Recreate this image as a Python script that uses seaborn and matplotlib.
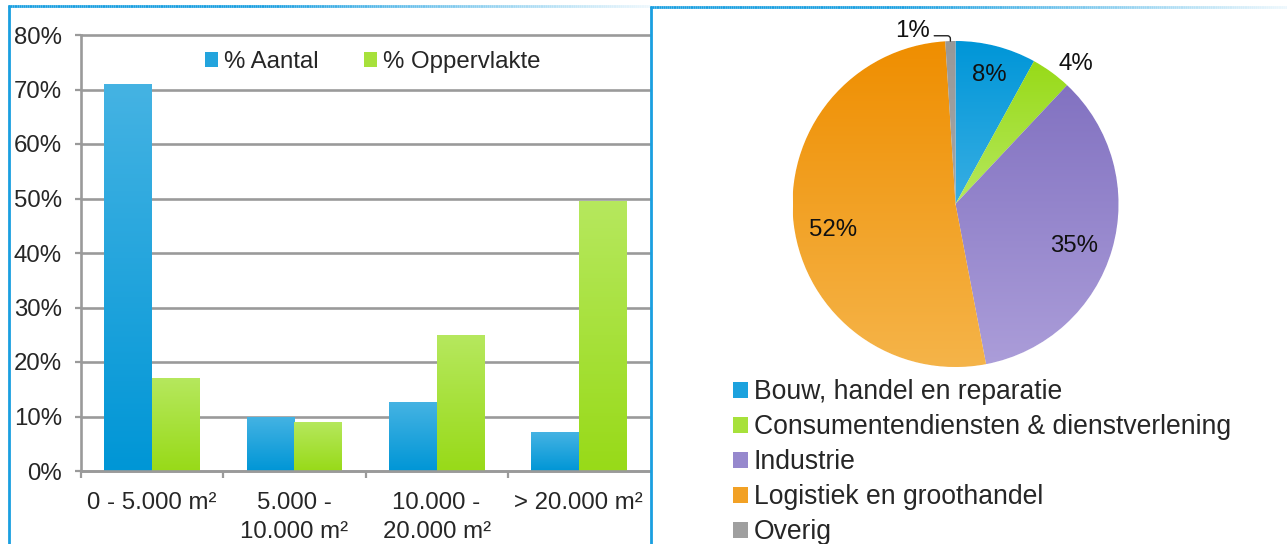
import numpy as np
import pandas as pd
import matplotlib
matplotlib.use("Agg")
import matplotlib.pyplot as plt
from matplotlib.colors import LinearSegmentedColormap, to_rgb
from matplotlib.patches import Patch
from matplotlib.collections import LineCollection
import seaborn as sns

# ---------------- data ----------------
size_classes = ["0 - 5.000 m²", "5.000 -\n10.000 m²", "10.000 -\n20.000 m²", "> 20.000 m²"]
series_names = ["% Aantal", "% Oppervlakte"]
pct_aantal = [71.0, 10.0, 12.6, 7.1]
pct_oppervlakte = [17.1, 9.0, 24.9, 49.6]
y_ticks = [0, 10, 20, 30, 40, 50, 60, 70, 80]

sectors = ["Bouw, handel en reparatie",
           "Consumentendiensten & dienstverlening",
           "Industrie",
           "Logistiek en groothandel",
           "Overig"]
sector_share = [8, 4, 35, 52, 1]

# ---------------- style ----------------
sns.set_style("white")
plt.rcParams["font.family"] = ["Liberation Sans", "DejaVu Sans"]

W, H = 1287, 544
fig = plt.figure(figsize=(W / 100, H / 100), dpi=100)
fig.patch.set_facecolor("white")

GRID = "#9a9a9a"
FRAME = "#1a9fe0"
FS = 17.3

# (top colour, bottom colour) for vertical gradients
bar_grad = {"% Aantal": ("#45b3e3", "#0096d6"),
            "% Oppervlakte": ("#b6e85e", "#98da18")}
pie_grad = [("#0096d8", "#38aee3"),
            ("#98da18", "#b6e85e"),
            ("#8272c1", "#ab9dd9"),
            ("#ef8e00", "#f5b449"),
            ("#989898", "#a6a6a6")]


def mix(c1, c2):
    a, b = np.array(to_rgb(c1)), np.array(to_rgb(c2))
    return tuple((a + b) / 2)


def fill_gradient(ax, patch, top, bottom, box):
    cmap = LinearSegmentedColormap.from_list("grad", [top, bottom])
    grad = np.linspace(0, 1, 256).reshape(-1, 1)
    im = ax.imshow(grad, cmap=cmap, aspect="auto", origin="upper",
                   extent=(box.x0, box.x1, box.y0, box.y1),
                   zorder=patch.get_zorder() + 0.01, interpolation="bilinear")
    im.set_clip_path(patch)


# ---------------- panel frames ----------------
bg = fig.add_axes([0, 0, 1, 1], zorder=-5)
bg.set_xlim(0, W)
bg.set_ylim(H, 0)
bg.axis("off")


def fading_line(ax, x0, x1, y, lw):
    xs = np.linspace(x0, x1, 300)
    segs = [[(xs[i], y), (xs[i + 1], y)] for i in range(len(xs) - 1)]
    t = np.linspace(0, 1, len(segs))
    alpha = np.where(t < 0.4, 1.0, 1.0 - (t - 0.4) / 0.6 * 0.92)
    base = np.array(to_rgb(FRAME))
    cols = [tuple(base * a + (1 - a)) for a in alpha]
    ax.add_collection(LineCollection(segs, colors=cols, linewidths=lw))


fading_line(bg, 8, 650, 5.5, 2.0)
fading_line(bg, 650, W, 6.5, 2.0)
bg.plot([8.5, 8.5], [5, H], color=FRAME, lw=2.0, solid_capstyle="butt")

# ---------------- bar chart ----------------
df = pd.DataFrame({
    "klasse": size_classes * 2,
    "reeks": [series_names[0]] * 4 + [series_names[1]] * 4,
    "pct": pct_aantal + pct_oppervlakte,
})

ax = fig.add_axes([81 / W, (H - 471) / H, (650 - 81) / W, (471 - 35) / H])
sns.barplot(data=df, x="klasse", y="pct", hue="reeks", hue_order=series_names,
            order=size_classes,
            palette=[mix(*bar_grad[s]) for s in series_names],
            width=0.67, saturation=1, errorbar=None, legend=False, ax=ax)

for name, cont in zip(series_names, ax.containers):
    for bar in cont:
        bar.set_linewidth(0)
        fill_gradient(ax, bar, *bar_grad[name], bar.get_bbox())

ax.set_xlim(-0.5, 3.5)
ax.set_ylim(0, 80)
ax.set_yticks(y_ticks)
ax.set_yticklabels([f"{t}%" for t in y_ticks], fontsize=FS)
ax.set_xticks(range(len(size_classes)))
ax.set_xticklabels(size_classes, fontsize=FS, linespacing=1.4)
ax.set_xticks(np.arange(-0.5, 3.0, 1.0), minor=True)
ax.set_xlabel("")
ax.set_ylabel("")
ax.tick_params(axis="y", which="major", left=True, length=4.3, width=1.6,
               color=GRID, pad=9.4)
ax.tick_params(axis="x", which="major", bottom=True, length=0, pad=15)
ax.tick_params(axis="x", which="minor", bottom=True, length=5, width=1.6,
               color=GRID, direction="out")
ax.yaxis.grid(True, color=GRID, lw=1.9)
for gl in ax.get_ygridlines():
    gl.set_clip_on(False)
ax.set_axisbelow(True)
for side in ("top", "right"):
    ax.spines[side].set_visible(False)
for side in ("left", "bottom"):
    ax.spines[side].set_color(GRID)
    ax.spines[side].set_linewidth(1.9)

bar_handles = [Patch(facecolor=mix(*bar_grad[s]), edgecolor="none") for s in series_names]
ax.legend(bar_handles, series_names, loc="upper left",
          bbox_to_anchor=(205 / W, 1 - 51 / H), bbox_transform=fig.transFigure,
          ncol=2, frameon=False, fontsize=FS, handlelength=0.55, handleheight=0.55,
          handletextpad=0.25, columnspacing=1.87, borderpad=0, borderaxespad=0)

# pie panel's left border, drawn over the gridline ends
bg2 = fig.add_axes([0, 0, 1, 1], zorder=5)
bg2.set_xlim(0, W)
bg2.set_ylim(H, 0)
bg2.axis("off")
bg2.plot([650.5, 650.5], [5.5, H], color=FRAME, lw=2.0, solid_capstyle="butt")

# ---------------- pie chart ----------------
cx, cy, r = 955.5, 204, 163
axp = fig.add_axes([(cx - r) / W, (H - cy - r) / H, 2 * r / W, 2 * r / H])
wedges, _ = axp.pie(sector_share, startangle=90, counterclock=False, radius=1,
                    colors=[mix(*g) for g in pie_grad],
                    wedgeprops=dict(linewidth=0.8, edgecolor="white"))
for w, g in zip(wedges, pie_grad):
    fill_gradient(axp, w, g[0], g[1], w.get_path().get_extents())
axp.set_xlim(-1, 1)
axp.set_ylim(-1, 1)
axp.set_aspect("auto")
axp.axis("off")

# label distance from the centre and nudge (pixels) for each slice
label_r = [0.83, 1.15, 0.76, 0.76]
label_nudge = [(0, -2), (10, -12), (0, -7), (0, -10)]
for w, v, lr, nd in zip(wedges[:4], sector_share[:4], label_r, label_nudge):
    ang = np.deg2rad((w.theta1 + w.theta2) / 2)
    axp.annotate(f"{v}%", xy=(lr * np.cos(ang), lr * np.sin(ang)),
                 xytext=nd, textcoords="offset pixels",
                 ha="center", va="center", fontsize=FS, color="#111111",
                 annotation_clip=False)

w = wedges[4]
ang = np.deg2rad((w.theta1 + w.theta2) / 2)
axp.annotate(f"{sector_share[4]}%", xy=(np.cos(ang), np.sin(ang)),
             xytext=(-27.5, 7), textcoords="offset points",
             ha="center", va="center", fontsize=FS, color="#111111",
             annotation_clip=False,
             arrowprops=dict(arrowstyle="-", color="#222222", lw=1.0,
                             shrinkA=1, shrinkB=0, relpos=(1.0, 0.3),
                             connectionstyle="angle,angleA=0,angleB=90,rad=3"))

pie_handles = [Patch(facecolor=mix(*g), edgecolor="none") for g in pie_grad]
fig.legend(pie_handles, sectors, loc="upper left",
           bbox_to_anchor=(733 / W, 1 - 379 / H), bbox_transform=fig.transFigure,
           frameon=False, fontsize=19.1, handlelength=0.55, handleheight=0.55,
           handletextpad=0.24, labelspacing=0.34, borderpad=0, borderaxespad=0)

fig.savefig("out.png", dpi=100)
